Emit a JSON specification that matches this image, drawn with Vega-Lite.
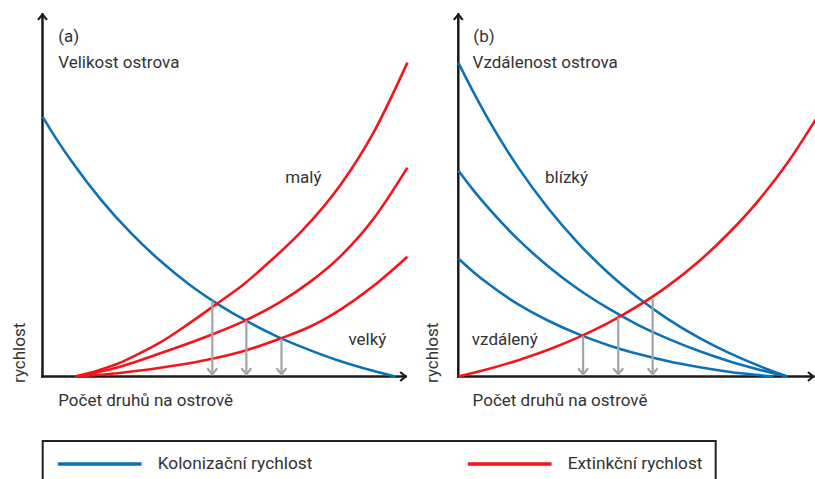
{
  "$schema": "https://vega.github.io/schema/vega-lite/v6.json",
  "width": 815,
  "height": 479,
  "padding": 0,
  "autosize": "none",
  "background": "white",
  "config": {"view": {"stroke": null}, "font": "Roboto"},
  "datasets": {
    "curves": [
      {"panel": "a", "curve": "a-kol", "series": "Kolonizační rychlost", "x": 0, "y": 71.8},
      {"panel": "a", "curve": "a-kol", "series": "Kolonizační rychlost", "x": 4, "y": 65.3},
      {"panel": "a", "curve": "a-kol", "series": "Kolonizační rychlost", "x": 8, "y": 59.4},
      {"panel": "a", "curve": "a-kol", "series": "Kolonizační rychlost", "x": 16, "y": 48.8},
      {"panel": "a", "curve": "a-kol", "series": "Kolonizační rychlost", "x": 24, "y": 39.8},
      {"panel": "a", "curve": "a-kol", "series": "Kolonizační rychlost", "x": 32, "y": 32.1},
      {"panel": "a", "curve": "a-kol", "series": "Kolonizační rychlost", "x": 40, "y": 25.5},
      {"panel": "a", "curve": "a-kol", "series": "Kolonizační rychlost", "x": 48, "y": 19.95},
      {"panel": "a", "curve": "a-kol", "series": "Kolonizační rychlost", "x": 56, "y": 15.2},
      {"panel": "a", "curve": "a-kol", "series": "Kolonizační rychlost", "x": 64, "y": 11.1},
      {"panel": "a", "curve": "a-kol", "series": "Kolonizační rychlost", "x": 72, "y": 7.7},
      {"panel": "a", "curve": "a-kol", "series": "Kolonizační rychlost", "x": 80, "y": 4.7},
      {"panel": "a", "curve": "a-kol", "series": "Kolonizační rychlost", "x": 88, "y": 2.2},
      {"panel": "a", "curve": "a-kol", "series": "Kolonizační rychlost", "x": 96.4, "y": 0},

      {"panel": "a", "curve": "a-ext-maly", "series": "Extinkční rychlost", "x": 9, "y": 0},
      {"panel": "a", "curve": "a-ext-maly", "series": "Extinkční rychlost", "x": 15, "y": 1.6},
      {"panel": "a", "curve": "a-ext-maly", "series": "Extinkční rychlost", "x": 20.5, "y": 3.5},
      {"panel": "a", "curve": "a-ext-maly", "series": "Extinkční rychlost", "x": 26, "y": 6.1},
      {"panel": "a", "curve": "a-ext-maly", "series": "Extinkční rychlost", "x": 32.2, "y": 9.4},
      {"panel": "a", "curve": "a-ext-maly", "series": "Extinkční rychlost", "x": 40, "y": 14.6},
      {"panel": "a", "curve": "a-ext-maly", "series": "Extinkční rychlost", "x": 47.8, "y": 20.2},
      {"panel": "a", "curve": "a-ext-maly", "series": "Extinkční rychlost", "x": 55, "y": 25.5},
      {"panel": "a", "curve": "a-ext-maly", "series": "Extinkční rychlost", "x": 61.5, "y": 31.2},
      {"panel": "a", "curve": "a-ext-maly", "series": "Extinkční rychlost", "x": 70.5, "y": 39.8},
      {"panel": "a", "curve": "a-ext-maly", "series": "Extinkční rychlost", "x": 81.4, "y": 52.9},
      {"panel": "a", "curve": "a-ext-maly", "series": "Extinkční rychlost", "x": 90.4, "y": 67.3},
      {"panel": "a", "curve": "a-ext-maly", "series": "Extinkční rychlost", "x": 99.7, "y": 86.7},

      {"panel": "a", "curve": "a-ext-stredni", "series": "Extinkční rychlost", "x": 9, "y": 0},
      {"panel": "a", "curve": "a-ext-stredni", "series": "Extinkční rychlost", "x": 20.5, "y": 2.5},
      {"panel": "a", "curve": "a-ext-stredni", "series": "Extinkční rychlost", "x": 32.2, "y": 6.4},
      {"panel": "a", "curve": "a-ext-stredni", "series": "Extinkční rychlost", "x": 44, "y": 10.7},
      {"panel": "a", "curve": "a-ext-stredni", "series": "Extinkční rychlost", "x": 55.5, "y": 15.5},
      {"panel": "a", "curve": "a-ext-stredni", "series": "Extinkční rychlost", "x": 65, "y": 20.6},
      {"panel": "a", "curve": "a-ext-stredni", "series": "Extinkční rychlost", "x": 73.2, "y": 26.2},
      {"panel": "a", "curve": "a-ext-stredni", "series": "Extinkční rychlost", "x": 81.4, "y": 33.2},
      {"panel": "a", "curve": "a-ext-stredni", "series": "Extinkční rychlost", "x": 90.4, "y": 43.5},
      {"panel": "a", "curve": "a-ext-stredni", "series": "Extinkční rychlost", "x": 99.7, "y": 57.7},

      {"panel": "a", "curve": "a-ext-velky", "series": "Extinkční rychlost", "x": 9, "y": 0},
      {"panel": "a", "curve": "a-ext-velky", "series": "Extinkční rychlost", "x": 20.5, "y": 0.9},
      {"panel": "a", "curve": "a-ext-velky", "series": "Extinkční rychlost", "x": 32.2, "y": 2.4},
      {"panel": "a", "curve": "a-ext-velky", "series": "Extinkční rychlost", "x": 44, "y": 4.4},
      {"panel": "a", "curve": "a-ext-velky", "series": "Extinkční rychlost", "x": 55.5, "y": 7.2},
      {"panel": "a", "curve": "a-ext-velky", "series": "Extinkční rychlost", "x": 65, "y": 10.5},
      {"panel": "a", "curve": "a-ext-velky", "series": "Extinkční rychlost", "x": 73.2, "y": 13.8},
      {"panel": "a", "curve": "a-ext-velky", "series": "Extinkční rychlost", "x": 81.4, "y": 18.5},
      {"panel": "a", "curve": "a-ext-velky", "series": "Extinkční rychlost", "x": 90.4, "y": 25.0},
      {"panel": "a", "curve": "a-ext-velky", "series": "Extinkční rychlost", "x": 99.7, "y": 33.1},

      {"panel": "b", "curve": "b-kol-blizky", "series": "Kolonizační rychlost", "x": 0, "y": 86.7},
      {"panel": "b", "curve": "b-kol-blizky", "series": "Kolonizační rychlost", "x": 4.1, "y": 78.6},
      {"panel": "b", "curve": "b-kol-blizky", "series": "Kolonizační rychlost", "x": 8.2, "y": 71.0},
      {"panel": "b", "curve": "b-kol-blizky", "series": "Kolonizační rychlost", "x": 16.4, "y": 57.7},
      {"panel": "b", "curve": "b-kol-blizky", "series": "Kolonizační rychlost", "x": 24.6, "y": 46.4},
      {"panel": "b", "curve": "b-kol-blizky", "series": "Kolonizační rychlost", "x": 32.8, "y": 36.8},
      {"panel": "b", "curve": "b-kol-blizky", "series": "Kolonizační rychlost", "x": 41.0, "y": 28.6},
      {"panel": "b", "curve": "b-kol-blizky", "series": "Kolonizační rychlost", "x": 49.2, "y": 21.7},
      {"panel": "b", "curve": "b-kol-blizky", "series": "Kolonizační rychlost", "x": 57.4, "y": 15.8},
      {"panel": "b", "curve": "b-kol-blizky", "series": "Kolonizační rychlost", "x": 65.6, "y": 10.8},
      {"panel": "b", "curve": "b-kol-blizky", "series": "Kolonizační rychlost", "x": 73.8, "y": 6.6},
      {"panel": "b", "curve": "b-kol-blizky", "series": "Kolonizační rychlost", "x": 82.0, "y": 3.0},
      {"panel": "b", "curve": "b-kol-blizky", "series": "Kolonizační rychlost", "x": 89.9, "y": 0},

      {"panel": "b", "curve": "b-kol-stredni", "series": "Kolonizační rychlost", "x": 0, "y": 56.9},
      {"panel": "b", "curve": "b-kol-stredni", "series": "Kolonizační rychlost", "x": 4.1, "y": 51.5},
      {"panel": "b", "curve": "b-kol-stredni", "series": "Kolonizační rychlost", "x": 8.2, "y": 46.6},
      {"panel": "b", "curve": "b-kol-stredni", "series": "Kolonizační rychlost", "x": 16.4, "y": 37.8},
      {"panel": "b", "curve": "b-kol-stredni", "series": "Kolonizační rychlost", "x": 24.6, "y": 30.4},
      {"panel": "b", "curve": "b-kol-stredni", "series": "Kolonizační rychlost", "x": 32.8, "y": 24.1},
      {"panel": "b", "curve": "b-kol-stredni", "series": "Kolonizační rychlost", "x": 41.0, "y": 18.8},
      {"panel": "b", "curve": "b-kol-stredni", "series": "Kolonizační rychlost", "x": 49.2, "y": 14.2},
      {"panel": "b", "curve": "b-kol-stredni", "series": "Kolonizační rychlost", "x": 57.4, "y": 10.4},
      {"panel": "b", "curve": "b-kol-stredni", "series": "Kolonizační rychlost", "x": 65.6, "y": 7.1},
      {"panel": "b", "curve": "b-kol-stredni", "series": "Kolonizační rychlost", "x": 73.8, "y": 4.3},
      {"panel": "b", "curve": "b-kol-stredni", "series": "Kolonizační rychlost", "x": 82.0, "y": 1.96},
      {"panel": "b", "curve": "b-kol-stredni", "series": "Kolonizační rychlost", "x": 89.9, "y": 0},

      {"panel": "b", "curve": "b-kol-vzdaleny", "series": "Kolonizační rychlost", "x": 0, "y": 32.6},
      {"panel": "b", "curve": "b-kol-vzdaleny", "series": "Kolonizační rychlost", "x": 4.1, "y": 28.9},
      {"panel": "b", "curve": "b-kol-vzdaleny", "series": "Kolonizační rychlost", "x": 8.2, "y": 25.6},
      {"panel": "b", "curve": "b-kol-vzdaleny", "series": "Kolonizační rychlost", "x": 16.4, "y": 19.9},
      {"panel": "b", "curve": "b-kol-vzdaleny", "series": "Kolonizační rychlost", "x": 24.6, "y": 15.4},
      {"panel": "b", "curve": "b-kol-vzdaleny", "series": "Kolonizační rychlost", "x": 32.8, "y": 11.7},
      {"panel": "b", "curve": "b-kol-vzdaleny", "series": "Kolonizační rychlost", "x": 41.0, "y": 8.65},
      {"panel": "b", "curve": "b-kol-vzdaleny", "series": "Kolonizační rychlost", "x": 49.2, "y": 6.2},
      {"panel": "b", "curve": "b-kol-vzdaleny", "series": "Kolonizační rychlost", "x": 57.4, "y": 4.2},
      {"panel": "b", "curve": "b-kol-vzdaleny", "series": "Kolonizační rychlost", "x": 65.6, "y": 2.6},
      {"panel": "b", "curve": "b-kol-vzdaleny", "series": "Kolonizační rychlost", "x": 73.8, "y": 1.3},
      {"panel": "b", "curve": "b-kol-vzdaleny", "series": "Kolonizační rychlost", "x": 86.0, "y": 0},

      {"panel": "b", "curve": "b-ext", "series": "Extinkční rychlost", "x": 0, "y": 0},
      {"panel": "b", "curve": "b-ext", "series": "Extinkční rychlost", "x": 8.2, "y": 2.07},
      {"panel": "b", "curve": "b-ext", "series": "Extinkční rychlost", "x": 16.4, "y": 4.52},
      {"panel": "b", "curve": "b-ext", "series": "Extinkční rychlost", "x": 24.6, "y": 7.4},
      {"panel": "b", "curve": "b-ext", "series": "Extinkční rychlost", "x": 32.8, "y": 10.8},
      {"panel": "b", "curve": "b-ext", "series": "Extinkční rychlost", "x": 41.0, "y": 14.8},
      {"panel": "b", "curve": "b-ext", "series": "Extinkční rychlost", "x": 49.2, "y": 19.55},
      {"panel": "b", "curve": "b-ext", "series": "Extinkční rychlost", "x": 57.4, "y": 25.1},
      {"panel": "b", "curve": "b-ext", "series": "Extinkční rychlost", "x": 65.6, "y": 31.7},
      {"panel": "b", "curve": "b-ext", "series": "Extinkční rychlost", "x": 73.8, "y": 39.5},
      {"panel": "b", "curve": "b-ext", "series": "Extinkční rychlost", "x": 82.0, "y": 48.6},
      {"panel": "b", "curve": "b-ext", "series": "Extinkční rychlost", "x": 90.2, "y": 59.4},
      {"panel": "b", "curve": "b-ext", "series": "Extinkční rychlost", "x": 98.4, "y": 72.2}
    ],
    "arrows": [
      {"panel": "a", "x": 46.4, "top": 21.0},
      {"panel": "a", "x": 55.7, "top": 15.5},
      {"panel": "a", "x": 65.3, "top": 10.5},
      {"panel": "b", "x": 34.1, "top": 11.3},
      {"panel": "b", "x": 43.7, "top": 16.3},
      {"panel": "b", "x": 53.1, "top": 21.5}
    ],
    "axes": [
      {"panel": "a", "x": 0, "x2": 99.2, "y": 0, "y2": 0},
      {"panel": "a", "x": 0, "x2": 0, "y": 0, "y2": 100},
      {"panel": "b", "x": 0, "x2": 97.0, "y": 0, "y2": 0},
      {"panel": "b", "x": 0, "x2": 0, "y": 0, "y2": 100}
    ],
    "heads": [
      {"panel": "a", "dir": "up", "x": 0, "y": 100},
      {"panel": "a", "dir": "right", "x": 99.2, "y": 0},
      {"panel": "b", "dir": "up", "x": 0, "y": 100},
      {"panel": "b", "dir": "right", "x": 97.0, "y": 0}
    ],
    "labels": [
      {"panel": "a", "text": "(a)", "x": 4.3, "y": 92.5},
      {"panel": "a", "text": "Velikost ostrova", "x": 4.3, "y": 85.3},
      {"panel": "a", "text": "malý", "x": 66.3, "y": 53.5},
      {"panel": "a", "text": "velký", "x": 83.6, "y": 8.7},
      {"panel": "a", "text": "Počet druhů na ostrově", "x": 4.3, "y": -8.2},
      {"panel": "b", "text": "(b)", "x": 4.1, "y": 92.5},
      {"panel": "b", "text": "Vzdálenost ostrova", "x": 3.9, "y": 85.3},
      {"panel": "b", "text": "blízký", "x": 23.7, "y": 53.5},
      {"panel": "b", "text": "vzdálený", "x": 3.7, "y": 8.7},
      {"panel": "b", "text": "Počet druhů na ostrově", "x": 3.9, "y": -8.2}
    ],
    "vlabels": [
      {"panel": "a", "text": "rychlost", "x": -4.8, "y": -1.8},
      {"panel": "b", "text": "rychlost", "x": -5.5, "y": -1.8}
    ]
  },
  "resolve": {"scale": {"x": "independent", "y": "independent"}},
  "layer": [
    {
      "layer": [
        {
          "data": {"name": "axes"},
          "transform": [{"filter": "datum.panel === 'a'"}],
          "mark": {"type": "rule", "color": "#1a1a1a", "strokeWidth": 2.5, "strokeCap": "square"},
          "encoding": {
            "x": {"field": "x", "type": "quantitative", "scale": {"domain": [-11.612, 211.066], "nice": false, "zero": false}, "axis": null},
            "x2": {"field": "x2"},
            "y": {"field": "y", "type": "quantitative", "scale": {"domain": [-28.315, 104.006], "nice": false, "zero": false}, "axis": null},
            "y2": {"field": "y2"}
          }
        },
        {
          "data": {"name": "heads"},
          "transform": [{"filter": "datum.panel === 'a'"}],
          "mark": {"type": "point", "filled": false, "color": "#1a1a1a", "strokeWidth": 2.2, "size": 81, "opacity": 1},
          "encoding": {
            "x": {"field": "x", "type": "quantitative", "scale": {"domain": [-11.612, 211.066], "nice": false, "zero": false}, "axis": null},
            "y": {"field": "y", "type": "quantitative", "scale": {"domain": [-28.315, 104.006], "nice": false, "zero": false}, "axis": null},
            "shape": {"field": "dir", "type": "nominal", "scale": {"domain": ["up", "right"], "range": ["M-1,1.2L0,0L1,1.2", "M-1.2,-1L0,0L-1.2,1"]}, "legend": null}
          }
        },
        {
          "data": {"name": "curves"},
          "transform": [{"filter": "datum.panel === 'a'"}],
          "mark": {"type": "line", "interpolate": "monotone", "strokeWidth": 2.6},
          "encoding": {
            "x": {"field": "x", "type": "quantitative", "scale": {"domain": [-11.612, 211.066], "nice": false, "zero": false}, "axis": null},
            "y": {"field": "y", "type": "quantitative", "scale": {"domain": [-28.315, 104.006], "nice": false, "zero": false}, "axis": null},
            "detail": {"field": "curve"},
            "color": {
              "field": "series", "type": "nominal",
              "scale": {"domain": ["Kolonizační rychlost", "Extinkční rychlost"], "range": ["#0a72b8", "#f5141c"]},
              "legend": {
                "orient": "none", "legendX": 42.7, "legendY": 441, "direction": "horizontal", "columns": 2, "title": null,
                "symbolType": "stroke", "symbolSize": 7000, "symbolStrokeWidth": 3.5, "clipHeight": 20,
                "labelFontSize": 17.3, "labelFont": "Roboto", "labelColor": "#333333", "labelOffset": 14, "labelLimit": 0,
                "columnPadding": 153, "padding": 13, "strokeColor": "#222222",
                "labelExpr": "datum.label === 'Extinkční rychlost' ? datum.label + '\u00a0\u00a0\u00a0\u00a0\u00a0\u00a0\u00a0\u00a0\u00a0\u00a0\u00a0\u00a0\u00a0\u00a0\u00a0\u00a0\u00a0\u00a0\u00a0\u00a0\u00a0\u00a0\u00a0\u00a0\u00a0\u00a0\u00a0\u00a0\u00a0\u00a0' : datum.label",
                "encode": {"legend": {"update": {"strokeWidth": {"value": 2}}}}
              }
            }
          }
        },
        {
          "data": {"name": "arrows"},
          "transform": [{"filter": "datum.panel === 'a'"}],
          "mark": {"type": "rule", "color": "#a4a4a4", "strokeWidth": 2.2},
          "encoding": {
            "x": {"field": "x", "type": "quantitative", "scale": {"domain": [-11.612, 211.066], "nice": false, "zero": false}, "axis": null},
            "y": {"field": "top", "type": "quantitative", "scale": {"domain": [-28.315, 104.006], "nice": false, "zero": false}, "axis": null},
            "y2": {"datum": 0.6}
          }
        },
        {
          "data": {"name": "arrows"},
          "transform": [{"filter": "datum.panel === 'a'"}],
          "mark": {"type": "point", "filled": false, "color": "#a4a4a4", "strokeWidth": 2.2, "size": 100, "opacity": 1, "shape": "M-1,-1.2L0,0L1,-1.2"},
          "encoding": {
            "x": {"field": "x", "type": "quantitative", "scale": {"domain": [-11.612, 211.066], "nice": false, "zero": false}, "axis": null},
            "y": {"datum": 0.6, "type": "quantitative", "scale": {"domain": [-28.315, 104.006], "nice": false, "zero": false}, "axis": null}
          }
        },
        {
          "data": {"name": "labels"},
          "transform": [{"filter": "datum.panel === 'a'"}],
          "mark": {"type": "text", "align": "left", "baseline": "alphabetic", "fontSize": 17, "color": "#333333", "font": "Roboto"},
          "encoding": {
            "x": {"field": "x", "type": "quantitative", "scale": {"domain": [-11.612, 211.066], "nice": false, "zero": false}, "axis": null},
            "y": {"field": "y", "type": "quantitative", "scale": {"domain": [-28.315, 104.006], "nice": false, "zero": false}, "axis": null},
            "text": {"field": "text"}
          }
        },
        {
          "data": {"name": "vlabels"},
          "transform": [{"filter": "datum.panel === 'a'"}],
          "mark": {"type": "text", "align": "left", "baseline": "alphabetic", "angle": 270, "fontSize": 17, "color": "#333333", "font": "Roboto"},
          "encoding": {
            "x": {"field": "x", "type": "quantitative", "scale": {"domain": [-11.612, 211.066], "nice": false, "zero": false}, "axis": null},
            "y": {"field": "y", "type": "quantitative", "scale": {"domain": [-28.315, 104.006], "nice": false, "zero": false}, "axis": null},
            "text": {"field": "text"}
          }
        }
      ]
    },
    {
      "layer": [
        {
          "data": {"name": "axes"},
          "transform": [{"filter": "datum.panel === 'b'"}],
          "mark": {"type": "rule", "color": "#1a1a1a", "strokeWidth": 2.5, "strokeCap": "square"},
          "encoding": {
            "x": {"field": "x", "type": "quantitative", "scale": {"domain": [-125.219, 97.459], "nice": false, "zero": false}, "axis": null},
            "x2": {"field": "x2"},
            "y": {"field": "y", "type": "quantitative", "scale": {"domain": [-28.315, 104.006], "nice": false, "zero": false}, "axis": null},
            "y2": {"field": "y2"}
          }
        },
        {
          "data": {"name": "heads"},
          "transform": [{"filter": "datum.panel === 'b'"}],
          "mark": {"type": "point", "filled": false, "color": "#1a1a1a", "strokeWidth": 2.2, "size": 81, "opacity": 1},
          "encoding": {
            "x": {"field": "x", "type": "quantitative", "scale": {"domain": [-125.219, 97.459], "nice": false, "zero": false}, "axis": null},
            "y": {"field": "y", "type": "quantitative", "scale": {"domain": [-28.315, 104.006], "nice": false, "zero": false}, "axis": null},
            "shape": {"field": "dir", "type": "nominal", "scale": {"domain": ["up", "right"], "range": ["M-1,1.2L0,0L1,1.2", "M-1.2,-1L0,0L-1.2,1"]}, "legend": null}
          }
        },
        {
          "data": {"name": "curves"},
          "transform": [{"filter": "datum.panel === 'b'"}],
          "mark": {"type": "line", "interpolate": "monotone", "strokeWidth": 2.6},
          "encoding": {
            "x": {"field": "x", "type": "quantitative", "scale": {"domain": [-125.219, 97.459], "nice": false, "zero": false}, "axis": null},
            "y": {"field": "y", "type": "quantitative", "scale": {"domain": [-28.315, 104.006], "nice": false, "zero": false}, "axis": null},
            "detail": {"field": "curve"},
            "color": {
              "field": "series", "type": "nominal",
              "scale": {"domain": ["Kolonizační rychlost", "Extinkční rychlost"], "range": ["#0a72b8", "#f5141c"]},
              "legend": {
                "orient": "none", "legendX": 42.7, "legendY": 441, "direction": "horizontal", "columns": 2, "title": null,
                "symbolType": "stroke", "symbolSize": 7000, "symbolStrokeWidth": 3.5, "clipHeight": 20,
                "labelFontSize": 17.3, "labelFont": "Roboto", "labelColor": "#333333", "labelOffset": 14, "labelLimit": 0,
                "columnPadding": 153, "padding": 13, "strokeColor": "#222222",
                "labelExpr": "datum.label === 'Extinkční rychlost' ? datum.label + '\u00a0\u00a0\u00a0\u00a0\u00a0\u00a0\u00a0\u00a0\u00a0\u00a0\u00a0\u00a0\u00a0\u00a0\u00a0\u00a0\u00a0\u00a0\u00a0\u00a0\u00a0\u00a0\u00a0\u00a0\u00a0\u00a0\u00a0\u00a0\u00a0\u00a0' : datum.label",
                "encode": {"legend": {"update": {"strokeWidth": {"value": 2}}}}
              }
            }
          }
        },
        {
          "data": {"name": "arrows"},
          "transform": [{"filter": "datum.panel === 'b'"}],
          "mark": {"type": "rule", "color": "#a4a4a4", "strokeWidth": 2.2},
          "encoding": {
            "x": {"field": "x", "type": "quantitative", "scale": {"domain": [-125.219, 97.459], "nice": false, "zero": false}, "axis": null},
            "y": {"field": "top", "type": "quantitative", "scale": {"domain": [-28.315, 104.006], "nice": false, "zero": false}, "axis": null},
            "y2": {"datum": 0.6}
          }
        },
        {
          "data": {"name": "arrows"},
          "transform": [{"filter": "datum.panel === 'b'"}],
          "mark": {"type": "point", "filled": false, "color": "#a4a4a4", "strokeWidth": 2.2, "size": 100, "opacity": 1, "shape": "M-1,-1.2L0,0L1,-1.2"},
          "encoding": {
            "x": {"field": "x", "type": "quantitative", "scale": {"domain": [-125.219, 97.459], "nice": false, "zero": false}, "axis": null},
            "y": {"datum": 0.6, "type": "quantitative", "scale": {"domain": [-28.315, 104.006], "nice": false, "zero": false}, "axis": null}
          }
        },
        {
          "data": {"name": "labels"},
          "transform": [{"filter": "datum.panel === 'b'"}],
          "mark": {"type": "text", "align": "left", "baseline": "alphabetic", "fontSize": 17, "color": "#333333", "font": "Roboto"},
          "encoding": {
            "x": {"field": "x", "type": "quantitative", "scale": {"domain": [-125.219, 97.459], "nice": false, "zero": false}, "axis": null},
            "y": {"field": "y", "type": "quantitative", "scale": {"domain": [-28.315, 104.006], "nice": false, "zero": false}, "axis": null},
            "text": {"field": "text"}
          }
        },
        {
          "data": {"name": "vlabels"},
          "transform": [{"filter": "datum.panel === 'b'"}],
          "mark": {"type": "text", "align": "left", "baseline": "alphabetic", "angle": 270, "fontSize": 17, "color": "#333333", "font": "Roboto"},
          "encoding": {
            "x": {"field": "x", "type": "quantitative", "scale": {"domain": [-125.219, 97.459], "nice": false, "zero": false}, "axis": null},
            "y": {"field": "y", "type": "quantitative", "scale": {"domain": [-28.315, 104.006], "nice": false, "zero": false}, "axis": null},
            "text": {"field": "text"}
          }
        }
      ]
    }
  ]
}
